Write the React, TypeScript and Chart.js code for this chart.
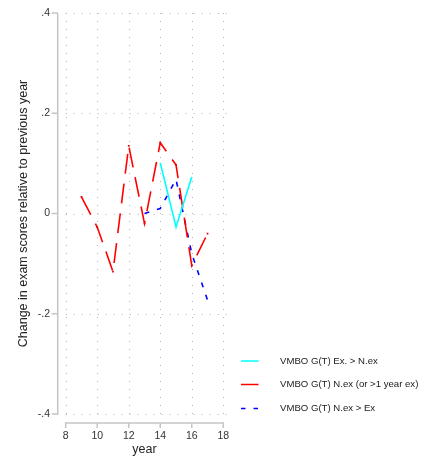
import React, { useEffect, useRef } from "react";
import { Chart, registerables } from "chart.js";

Chart.register(...registerables);

const redYears = [9, 10, 11, 12, 13, 14, 15, 16, 17];
const redValues = [0.033, -0.027, -0.116, 0.135, -0.02, 0.141, 0.097, -0.104, -0.04];
const cyanYears = [14, 15, 16];
const cyanValues = [0.101, -0.027, 0.073];
const blueYears = [13, 14, 15, 16, 17];
const blueValues = [0.0, 0.01, 0.068, -0.08, -0.173];

const xTicks = [8, 10, 12, 14, 16, 18];
const yTicks = [-0.4, -0.2, 0, 0.2, 0.4];
const yTickLabels = ["-.4", "-.2", "0", ".2", ".4"];

const seriesNames = [
  "VMBO G(T) Ex. > N.ex",
  "VMBO G(T) N.ex (or >1 year ex)",
  "VMBO G(T) N.ex > Ex",
];
const seriesColors = ["#00ffff", "#ff0000", "#0000ff"];
const seriesDash: number[][] = [[], [20, 10], [5, 8]];

const FONT = "'Liberation Sans', Arial, Helvetica, sans-serif";
const AXIS_COLOR = "#c4c4c4";
const GRID_COLOR = "#b4b4b4";

const stataAxes = {
  id: "stataAxes",
  beforeDatasetsDraw(chart: any) {
    const { ctx, chartArea, scales } = chart;
    const xs = scales.x;
    const ys = scales.y;
    const x0 = xs.getPixelForValue(xTicks[0]);
    const x1 = xs.getPixelForValue(xTicks[xTicks.length - 1]);
    const yTop = ys.getPixelForValue(yTicks[yTicks.length - 1]);
    const yBot = ys.getPixelForValue(yTicks[0]);
    ctx.save();
    ctx.strokeStyle = GRID_COLOR;
    ctx.lineWidth = 1;
    ctx.setLineDash([1, 7]);
    yTicks.forEach((v) => {
      const y = Math.round(ys.getPixelForValue(v)) + 0.5;
      ctx.beginPath();
      ctx.moveTo(x0, y);
      ctx.lineTo(x1 + 8, y);
      ctx.stroke();
    });
    xTicks.forEach((v) => {
      const x = Math.round(xs.getPixelForValue(v)) + 0.5;
      ctx.beginPath();
      ctx.moveTo(x, yTop);
      ctx.lineTo(x, yBot + 1);
      ctx.stroke();
    });
    ctx.setLineDash([]);
    ctx.strokeStyle = AXIS_COLOR;
    ctx.lineWidth = 1.5;
    const ax = chartArea.left - 8;
    ctx.beginPath();
    ctx.moveTo(ax, yTop);
    ctx.lineTo(ax, yBot + 1);
    ctx.stroke();
    yTicks.forEach((v) => {
      const y = ys.getPixelForValue(v);
      ctx.beginPath();
      ctx.moveTo(ax - 6, y);
      ctx.lineTo(ax, y);
      ctx.stroke();
    });
    const ay = chartArea.bottom + 9;
    ctx.beginPath();
    ctx.moveTo(x0 - 0.75, ay);
    ctx.lineTo(x1 + 0.75, ay);
    ctx.stroke();
    xTicks.forEach((v) => {
      const x = xs.getPixelForValue(v);
      ctx.beginPath();
      ctx.moveTo(x, ay);
      ctx.lineTo(x, ay + 5);
      ctx.stroke();
    });
    ctx.restore();
  },
  afterDraw(chart: any) {
    const { ctx } = chart;
    ctx.save();
    const lx = 241;
    const ly = [361, 384.5, 408.5];
    seriesNames.forEach((name, i) => {
      ctx.strokeStyle = seriesColors[i];
      ctx.lineWidth = 1.5;
      ctx.setLineDash(i === 2 ? [4.5, 8] : []);
      ctx.beginPath();
      ctx.moveTo(lx, ly[i]);
      ctx.lineTo(lx + 17.5, ly[i]);
      ctx.stroke();
      ctx.setLineDash([]);
      ctx.fillStyle = "#222";
      ctx.font = `9.6px ${FONT}`;
      ctx.textBaseline = "middle";
      ctx.textAlign = "left";
      ctx.fillText(name, 280, ly[i]);
    });
    ctx.restore();
  },
};

export default function App() {
  const ref = useRef<HTMLCanvasElement | null>(null);
  useEffect(() => {
    document.body.style.margin = "0";
    const canvas = ref.current!;
    const mk = (xsArr: number[], vals: number[]) =>
      xsArr.map((x, i) => ({ x, y: vals[i] }));
    const chart = new Chart(canvas, {
      type: "line",
      data: {
        datasets: [
          {
            label: seriesNames[0],
            data: mk(cyanYears, cyanValues),
            borderColor: seriesColors[0],
            borderWidth: 1.6,
            borderDash: seriesDash[0],
            pointRadius: 0,
            tension: 0,
          },
          {
            label: seriesNames[1],
            data: mk(redYears, redValues),
            borderColor: seriesColors[1],
            backgroundColor: "#e00000",
            borderWidth: 1.6,
            borderDash: seriesDash[1],
            pointRadius: 1.2,
            pointStyle: "rect",
            pointBorderWidth: 0,
            tension: 0,
          },
          {
            label: seriesNames[2],
            data: mk(blueYears, blueValues),
            borderColor: seriesColors[2],
            borderWidth: 1.6,
            borderDash: seriesDash[2],
            pointRadius: 0,
            tension: 0,
          },
        ],
      },
      options: {
        animation: false,
        responsive: false,
        devicePixelRatio: 1,
        layout: { padding: { top: 13, right: 215.7, left: 0, bottom: 0 } },
        plugins: { legend: { display: false }, tooltip: { enabled: false } },
        scales: {
          x: {
            type: "linear",
            min: 8,
            max: 18,
            afterBuildTicks: (s: any) => {
              s.ticks = xTicks.map((v) => ({ value: v }));
            },
            afterFit: (s: any) => {
              s.height = 50;
              s.paddingLeft = 0;
              s.paddingRight = 0;
            },
            grid: { display: true, drawOnChartArea: false, drawTicks: false, color: "rgba(0,0,0,0)" },
            border: { display: false },
            ticks: {
              font: { family: FONT, size: 10.5 },
              color: "#333",
              padding: 15.5,
              maxRotation: 0,
              autoSkip: false,
              callback: (v: any) => String(v),
            },
            title: {
              display: true,
              text: "year",
              font: { family: FONT, size: 12.5 },
              color: "#222",
              padding: { top: 0, bottom: 6.5 },
            },
          },
          y: {
            type: "linear",
            min: -0.4,
            max: 0.4,
            afterBuildTicks: (s: any) => {
              s.ticks = yTicks.map((v) => ({ value: v }));
            },
            afterFit: (s: any) => {
              s.width = 65.7;
              s.paddingTop = 0;
              s.paddingBottom = 0;
            },
            grid: { display: true, drawOnChartArea: false, drawTicks: false, color: "rgba(0,0,0,0)" },
            border: { display: false },
            ticks: {
              font: { family: FONT, size: 10.5 },
              color: "#333",
              padding: 15.7,
              autoSkip: false,
              callback: (v: any) => {
                const i = yTicks.findIndex((t) => Math.abs(t - Number(v)) < 1e-9);
                return i >= 0 ? yTickLabels[i] : "";
              },
            },
            title: {
              display: true,
              text: "Change in exam scores relative to previous year",
              font: { family: FONT, size: 12.5 },
              color: "#222",
              padding: { top: 16, bottom: 0 },
            },
          },
        },
      },
      plugins: [stataAxes],
    });
    return () => chart.destroy();
  }, []);
  return (
    <div style={{ position: "fixed", left: 0, top: 0, width: 439, height: 464, background: "#fff" }}>
      <canvas ref={ref} width={439} height={464} style={{ width: 439, height: 464, display: "block" }} />
    </div>
  );
}
